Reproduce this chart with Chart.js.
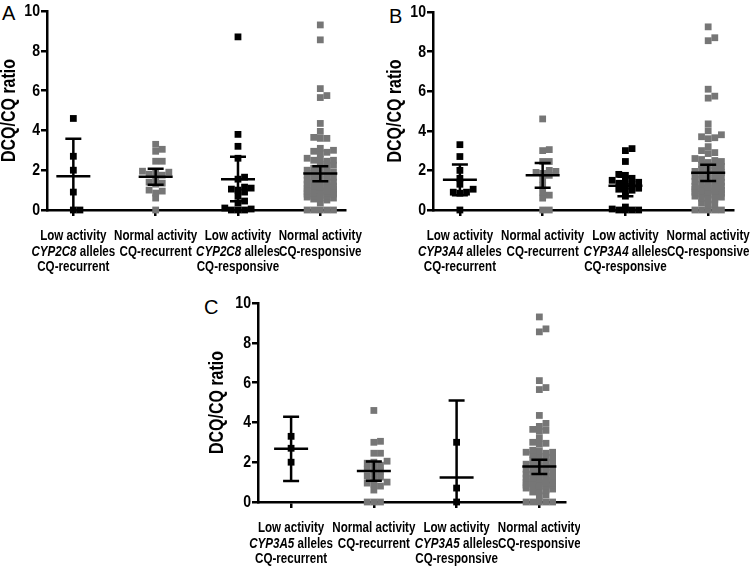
<!DOCTYPE html>
<html>
<head>
<meta charset="utf-8">
<script src="https://cdn.jsdelivr.net/npm/chart.js@4.4.0/dist/chart.umd.min.js"></script>
<style>
  body { margin: 0; background: #fff; width: 750px; height: 567px; position: relative; overflow: hidden; }
  .panel { position: absolute; }
  .letter { position: absolute; font-family: "Liberation Sans", Arial, sans-serif; font-size: 20px; line-height: 1; color: #000; }
</style>
</head>
<body>
<div class="letter" style="left:2px;top:3px">A</div>
<div class="letter" style="left:389px;top:6px">B</div>
<div class="letter" style="left:204px;top:297px">C</div>
<div class="panel" style="left:0;top:0"><canvas id="chartA" width="375" height="280"></canvas></div>
<div class="panel" style="left:375px;top:0"><canvas id="chartB" width="375" height="280"></canvas></div>
<div class="panel" style="left:180px;top:280px"><canvas id="chartC" width="400" height="287"></canvas></div>
<script>
// group labels (line 2 of the "low activity" groups carries the gene name)
const labelTop = ['Low activity', 'Normal activity', 'Low activity', 'Normal activity'];
const labelBottom = ['CQ-recurrent', 'CQ-recurrent', 'CQ-responsive', 'CQ-responsive'];
const yTitle = 'DCQ/CQ ratio';
const yTicks = [0, 2, 4, 6, 8, 10];

// panel A - CYP2C8
const aGene = 'CYP2C8';
const aLowRec = [4.6, 2.7, 2.0, 0.9, 0, 0];
const aNormRec = [3.3, 3.05, 2.95, 2.45, 2.45, 1.95, 1.9, 1.85, 1.8, 1.75, 1.6, 1.4, 1.35, 1.3, 1.0, 0.95, 0.85, 0.6, 0];
const aLowResp = [8.7, 3.8, 3.2, 2.6, 1.65, 1.55, 1.15, 1.1, 1.05, 1.0, 0.9, 0.7, 0.45, 0.35, 0.1, 0.05, 0, 0, 0];
const aNormResp = [9.3, 8.55, 6.1, 5.75, 5.65, 4.35, 3.95, 3.65, 3.6, 3.6, 3.1, 3.0, 2.95, 2.9, 2.85, 2.6, 2.55, 2.5, 2.5, 2.45,
  2.3, 2.25, 2.2, 2.1, 2.05, 2.0, 1.95, 1.9, 1.85, 1.8, 1.75, 1.7, 1.65, 1.6, 1.55, 1.5, 1.45, 1.4, 1.4, 1.35, 1.3, 1.25,
  1.2, 1.2, 1.15, 1.1, 1.1, 1.05, 1.0, 1.0, 0.95, 0.95, 0.9, 0.9, 0.85, 0.85, 0.8, 0.8, 0.75, 0.7, 0.7, 0.65, 0.6, 0.6,
  0.55, 0.5, 0.35, 0, 0, 0, 0, 0];
const aMean = [1.7, 1.67, 1.55, 1.83];
const aLow = [-0.2, 1.27, 0.44, 1.44];
const aHigh = [3.58, 2.07, 2.68, 2.2];

// panel B - CYP3A4
const bGene = 'CYP3A4';
const bLowRec = [3.3, 2.7, 2.0, 1.6, 1.3, 1.05, 0.9, 0.9, 0.85, 0];
const bNormRec = [4.6, 3.05, 3.0, 2.45, 2.45, 2.0, 1.95, 1.9, 1.85, 1.75, 1.55, 1.25, 0.9, 0.75, 0.6, 0, 0];
const bLowResp = [3.1, 3.0, 2.45, 1.8, 1.75, 1.6, 1.5, 1.45, 1.4, 1.35, 1.3, 1.2, 1.1, 1.05, 1.0, 0.95, 0.7, 0.15, 0.05, 0, 0, 0, 0];
const bNormResp = [9.25, 8.7, 8.55, 6.1, 5.75, 5.65, 4.35, 4.0, 3.8, 3.7, 3.65, 3.6, 3.2, 3.0, 2.9, 2.85, 2.6, 2.55, 2.5, 2.45,
  2.4, 2.3, 2.25, 2.2, 2.1, 2.05, 2.0, 1.95, 1.9, 1.85, 1.8, 1.75, 1.7, 1.65, 1.6, 1.55, 1.5, 1.45, 1.4, 1.35, 1.3, 1.25,
  1.2, 1.2, 1.15, 1.1, 1.1, 1.05, 1.0, 1.0, 0.95, 0.95, 0.9, 0.9, 0.85, 0.8, 0.8, 0.75, 0.7, 0.65, 0.6, 0.55, 0.5, 0.35,
  0.3, 0.25, 0, 0, 0, 0, 0];
const bMean = [1.53, 1.76, 1.22, 1.88];
const bLow = [0.75, 1.12, 0.7, 1.46];
const bHigh = [2.3, 2.37, 1.68, 2.28];

// panel C - CYP3A5
const cGene = 'CYP3A5';
const cLowRec = [3.3, 2.7, 2.0];
const cNormRec = [4.6, 3.05, 3.0, 2.45, 2.45, 2.05, 2.0, 1.95, 1.85, 1.75, 1.65, 1.55, 1.45, 1.3, 1.25, 1.15, 1.0, 0.95, 0.9, 0.8, 0.6, 0, 0, 0];
const cLowResp = [3.0, 0.7, 0];
const cNormResp = [9.3, 8.7, 8.55, 6.1, 5.75, 5.65, 4.35, 3.95, 3.8, 3.65, 3.6, 3.55, 3.2, 3.0, 2.95, 2.9, 2.6, 2.55, 2.5, 2.5,
  2.45, 2.4, 2.3, 2.25, 2.2, 2.1, 2.05, 2.0, 1.95, 1.9, 1.85, 1.8, 1.75, 1.7, 1.65, 1.6, 1.55, 1.5, 1.45, 1.4, 1.4, 1.35,
  1.3, 1.25, 1.2, 1.2, 1.15, 1.1, 1.1, 1.05, 1.0, 1.0, 0.95, 0.95, 0.9, 0.9, 0.85, 0.85, 0.8, 0.8, 0.75, 0.7, 0.65, 0.6,
  0.55, 0.5, 0.35, 0.3, 0, 0, 0, 0, 0];
const cMean = [2.67, 1.56, 1.23, 1.78];
const cLow = [1.06, 1.07, -2.64, 1.41];
const cHigh = [4.28, 2.03, 5.1, 2.12];

const FONT = '"Liberation Sans", Arial, sans-serif';
const NARROW = 0.8;  // condensed look of the original figure font
const BLACK = '#000000';
const GREY = '#767676';
const X_PX = 82.5;   // approx pixels per category unit
const Y_PX = 19.9;   // approx pixels per y unit
const STEP = 6.6;    // sideways marker pitch in px
const ROW = 4.2;     // vertical gap below which markers get pushed sideways
const MAXK = 4;      // at most two columns each side, then overlap

// spread close values sideways like a dot plot
function swarm(values, center) {
  const placed = [];
  values.slice().sort((a, b) => a - b).forEach(v => {
    const py = v * Y_PX;
    let best = 0, bestGap = -1;
    for (let k = 0; k <= MAXK; k++) {
      const off = k === 0 ? 0 : (k % 2 ? 1 : -1) * Math.ceil(k / 2) * STEP;
      const near = placed.filter(p => Math.abs(p.px - off) < STEP - 0.5);
      const gap = near.length ? Math.min(...near.map(p => Math.abs(p.py - py))) : 99;
      if (gap >= ROW) { best = off; bestGap = gap; break; }
      if (gap > bestGap) { best = off; bestGap = gap; }
    }
    placed.push({ px: best, py: py, v: v });
  });
  return placed.map(p => ({ x: center + p.px / X_PX, y: p.v }));
}

function narrowText(ctx, text, x, y, align, font, squeeze) {
  ctx.save();
  ctx.font = font;
  ctx.translate(x, y);
  ctx.scale(squeeze || NARROW, 1);
  ctx.textAlign = align;
  ctx.fillText(text, 0, 0);
  ctx.restore();
}

const errorBars = {
  id: 'errorBars',
  afterDatasetsDraw(chart, args, opts) {
    const { ctx, scales: { x, y } } = chart;
    ctx.save();
    ctx.strokeStyle = BLACK;
    ctx.lineWidth = 2.5;
    opts.mean.forEach((m, i) => {
      const cx = x.getPixelForValue(i + 1);
      const top = y.getPixelForValue(opts.high[i]);
      const bot = y.getPixelForValue(Math.max(0, opts.low[i]));
      const mid = y.getPixelForValue(m);
      ctx.beginPath();
      ctx.moveTo(cx, top); ctx.lineTo(cx, bot);
      ctx.moveTo(cx - 8, top); ctx.lineTo(cx + 8, top);
      if (opts.low[i] >= 0) { ctx.moveTo(cx - 8, bot); ctx.lineTo(cx + 8, bot); }
      ctx.moveTo(cx - 17, mid); ctx.lineTo(cx + 17, mid);
      ctx.stroke();
    });
    ctx.restore();
  }
};

// axis text in the condensed face: y ticks, y title and the group names
const axisText = {
  id: 'axisText',
  afterDraw(chart, args, opts) {
    const { ctx, scales: { x, y } } = chart;
    const base = y.getPixelForValue(0);
    const axisX = x.left;
    ctx.save();
    ctx.fillStyle = BLACK;
    ctx.textBaseline = 'middle';
    const bold = 'bold 14.5px ' + FONT;
    const boldIt = 'italic bold 14.5px ' + FONT;

    yTicks.forEach(v => {
      narrowText(ctx, String(v), axisX - 7, y.getPixelForValue(v) + 0.5, 'right', 'bold 16px ' + FONT, 0.88);
    });

    ctx.save();
    ctx.translate(axisX - opts.titleGap, (y.top + y.bottom) / 2);
    ctx.rotate(-Math.PI / 2);
    narrowText(ctx, yTitle, 0, 0, 'center', 'bold 20px ' + FONT);
    ctx.restore();

    for (let i = 0; i < 4; i++) {
      const cx = x.getPixelForValue(i + 1);
      const lines = i % 2 === 0 ? [labelTop[i], null, labelBottom[i]] : [labelTop[i], labelBottom[i]];
      lines.forEach((txt, j) => {
        const ly = base + 26 + j * 15.5;
        if (txt === null) {
          ctx.font = boldIt;
          const w1 = ctx.measureText(opts.gene).width * NARROW;
          ctx.font = bold;
          const w2 = ctx.measureText(' alleles').width * NARROW;
          const sx = cx - (w1 + w2) / 2;
          narrowText(ctx, opts.gene, sx, ly, 'left', boldIt);
          narrowText(ctx, ' alleles', sx + w1, ly, 'left', bold);
        } else {
          narrowText(ctx, txt, cx, ly, 'center', bold);
        }
      });
    }
    ctx.restore();
  }
};

function makePanel(id, groups, mean, low, high, gene, g) {
  const datasets = groups.map((vals, i) => ({
    data: swarm(vals, i + 1),
    pointStyle: 'rect',
    pointRadius: 4.8,
    pointHoverRadius: 4.8,
    pointBorderWidth: 0,
    backgroundColor: i % 2 === 0 ? BLACK : GREY,
    borderColor: i % 2 === 0 ? BLACK : GREY,
    showLine: false,
    clip: false
  }));
  new Chart(document.getElementById(id), {
    type: 'scatter',
    data: { datasets },
    options: {
      responsive: false,
      animation: false,
      events: [],
      layout: { padding: { left: 0, top: g.padTop, right: g.padRight, bottom: 0 } },
      plugins: {
        legend: { display: false },
        tooltip: { enabled: false },
        errorBars: { mean, low, high },
        axisText: { gene, titleGap: g.titleGap }
      },
      scales: {
        x: {
          type: 'linear', min: g.xMin, max: g.xMax,
          afterBuildTicks: s => { s.ticks = [1, 2, 3, 4].map(v => ({ value: v })); },
          ticks: { display: false },
          grid: { drawOnChartArea: false, drawTicks: true, tickLength: 6, color: BLACK, lineWidth: 2.5 },
          border: { display: true, color: BLACK, width: 2.5 },
          afterFit: s => { s.height = g.xHeight; }
        },
        y: {
          type: 'linear', min: 0, max: 10,
          afterBuildTicks: s => { s.ticks = yTicks.map(v => ({ value: v })); },
          ticks: { display: false },
          grid: { drawOnChartArea: false, drawTicks: true, tickLength: 6, color: BLACK, lineWidth: 2.5 },
          border: { display: true, color: BLACK, width: 2.5 },
          afterFit: s => { s.width = g.yWidth; }
        }
      }
    },
    plugins: [errorBars, axisText]
  });
}

makePanel('chartA', [aLowRec, aNormRec, aLowResp, aNormResp], aMean, aLow, aHigh, aGene,
  { padTop: 11, padRight: 30, yWidth: 47, xHeight: 70, xMin: 0.68, xMax: 4.3, titleGap: 38 });
makePanel('chartB', [bLowRec, bNormRec, bLowResp, bNormResp], bMean, bLow, bHigh, bGene,
  { padTop: 12, padRight: 17, yWidth: 58, xHeight: 70, xMin: 0.675, xMax: 4.3, titleGap: 38 });
makePanel('chartC', [cLowRec, cNormRec, cLowResp, cNormResp], cMean, cLow, cHigh, cGene,
  { padTop: 23, padRight: 15, yWidth: 78, xHeight: 65, xMin: 0.6, xMax: 4.31, titleGap: 41 });
</script>
</body>
</html>
